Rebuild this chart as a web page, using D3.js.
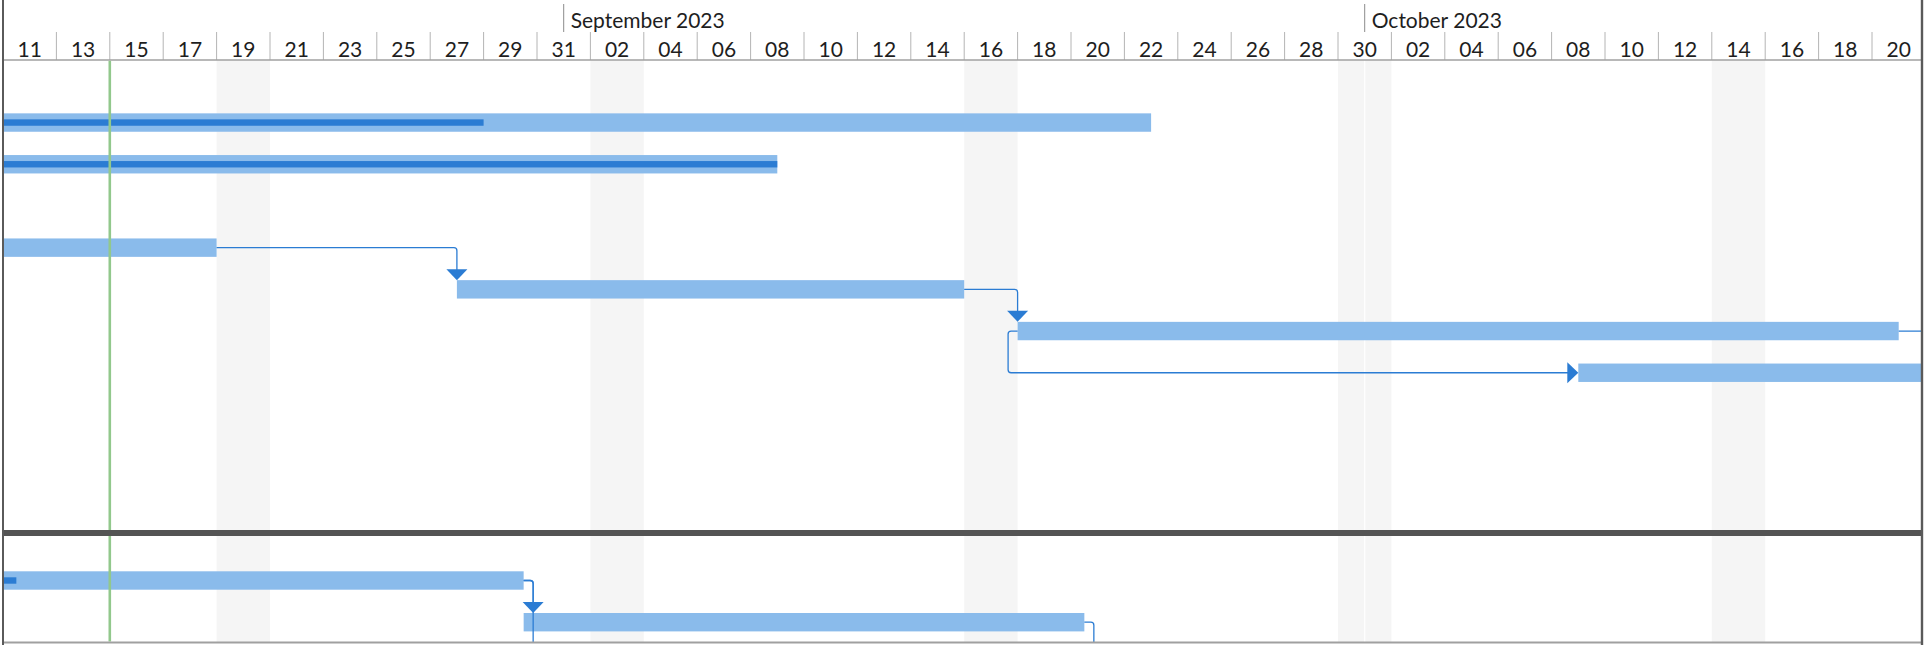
<!DOCTYPE html>
<html>
<head>
<meta charset="utf-8">
<script src="https://cdn.jsdelivr.net/npm/d3@7"></script>
<style>
  html, body { margin: 0; padding: 0; background: #fff; overflow: hidden; }
  svg { display: block; }
  text { font-family: "Segoe UI", Lato, "Noto Sans", sans-serif; fill: #1e1e1e; }
</style>
</head>
<body>
<svg id="chart" width="1930" height="645"></svg>
<script>
// ---- Timeline window ----
const viewStart = "2023-08-11";
const viewEnd = "2023-10-22";
const statusDate = "2023-08-15";
// Non-working periods shaded on the timescale (Saturday + Sunday)
const shadedStarts = ["2023-08-19", "2023-09-02", "2023-09-16", "2023-09-30", "2023-10-14"];
const shadedEnds   = ["2023-08-21", "2023-09-04", "2023-09-18", "2023-10-02", "2023-10-16"];

// ---- Upper pane tasks ----
const upperIds    = ["A", "B", "C", "D", "E", "F"];
const upperRows   = [1, 2, 4, 5, 6, 7];
const upperStarts = ["2023-08-07", "2023-08-07", "2023-08-07", "2023-08-28", "2023-09-18", "2023-10-09"];
const upperEnds   = ["2023-09-23", "2023-09-09", "2023-08-19", "2023-09-16", "2023-10-21", "2023-10-27"];
const upperDone   = ["2023-08-29", "2023-09-09", null, null, null, null];

// ---- Lower pane tasks ----
const lowerIds    = ["G", "H"];
const lowerRows   = [0, 1];
const lowerStarts = ["2023-08-07", "2023-08-30 12:00"];
const lowerEnds   = ["2023-08-30 12:00", "2023-09-20 12:00"];
const lowerDone   = ["2023-08-11 12:00", null];

// ---- Dependencies ----
const linkSources = ["C", "D", "E", "G"];
const linkTargets = ["D", "E", "F", "H"];
const linkTypes   = ["FS", "FS", "SS", "FS"];
// links whose successor lies outside the visible window
const outSources  = ["E", "G", "H"];
const outDirs     = ["right", "down", "down"];

// ---- Layout ----
const W = 1930, H = 645;
const paneLeft = 3, paneRight = 1922;
const pxPerDay = 26.7;
const headerBottom = 60;
const monthRowTop = 4, dayRowTop = 32;
const splitTop = 530, splitBottom = 536;
const bodyBottom = 642.5;
const rowH = 41.7;
const upperTop = headerBottom;
const lowerTop = 559.65;
const barH = 18.4, doneH = 6.4;
const arrowLen = 11, arrowHalf = 10.5, linkStub = 9.5, corner = 3;

const COLORS = {
  bar: "#8abbeb", done: "#2b7cd3", link: "#2b7cd3",
  shade: "#f5f5f5", today: "#92c88c", grid: "#b4b4b4",
  header: "#a0a0a0", frame: "#5a5a5a", split: "#545454"
};

const parse = s => {
  const [d, t] = s.split(" ");
  return new Date(d + "T" + (t || "00:00") + ":00Z");
};

const t0 = parse(viewStart), t1 = parse(viewEnd);
const nDays = d3.utcDay.count(t0, t1);
const x = d3.scaleUtc().domain([t0, t1]).range([paneLeft, paneLeft + nDays * pxPerDay]);

const svg = d3.select("#chart");

// Build task objects
function makeTasks(ids, rows, starts, ends, done, top) {
  return ids.map((id, i) => ({
    id, row: rows[i],
    start: parse(starts[i]), end: parse(ends[i]),
    done: done[i] ? parse(done[i]) : null,
    cy: top + rowH * (rows[i] + 0.5)
  }));
}
const upperTasks = makeTasks(upperIds, upperRows, upperStarts, upperEnds, upperDone, upperTop);
const lowerTasks = makeTasks(lowerIds, lowerRows, lowerStarts, lowerEnds, lowerDone, lowerTop);
const byId = new Map([...upperTasks, ...lowerTasks].map(t => [t.id, t]));

// Clip paths for the two panes
const defs = svg.append("defs");
defs.append("clipPath").attr("id", "clip-upper").append("rect")
  .attr("x", paneLeft).attr("y", headerBottom).attr("width", paneRight - paneLeft).attr("height", splitTop - headerBottom);
defs.append("clipPath").attr("id", "clip-lower").append("rect")
  .attr("x", paneLeft).attr("y", splitBottom).attr("width", paneRight - paneLeft).attr("height", bodyBottom - splitBottom);
defs.append("clipPath").attr("id", "clip-body").append("rect")
  .attr("x", paneLeft).attr("y", headerBottom).attr("width", paneRight - paneLeft).attr("height", bodyBottom - headerBottom);

// ---- Shaded non-working days ----
const shadeG = svg.append("g").attr("clip-path", "url(#clip-body)");
shadeG.selectAll("rect").data(shadedStarts.map((s, i) => [parse(s), parse(shadedEnds[i])]))
  .join("rect")
  .attr("x", d => x(d[0])).attr("width", d => x(d[1]) - x(d[0]))
  .attr("y", headerBottom).attr("height", bodyBottom - headerBottom)
  .attr("fill", COLORS.shade);

// month boundaries inside the body
const months = d3.utcMonth.range(d3.utcMonth.ceil(t0), t1);
shadeG.selectAll("line").data(months).join("line")
  .attr("x1", d => x(d)).attr("x2", d => x(d))
  .attr("y1", headerBottom).attr("y2", bodyBottom)
  .attr("stroke", "#fff").attr("stroke-width", 1.2);

// ---- Timescale header ----
const header = svg.append("g");
const dayTicks = d3.utcDay.range(t0, t1, 2);
const fmtDay = d3.utcFormat("%d");
const fmtMonth = d3.utcFormat("%B %Y");

header.selectAll("line.daysep").data(dayTicks.slice(1)).join("line")
  .attr("class", "daysep")
  .attr("x1", d => x(d)).attr("x2", d => x(d))
  .attr("y1", dayRowTop).attr("y2", headerBottom)
  .attr("stroke", COLORS.grid).attr("stroke-width", 1);

header.selectAll("text.day").data(dayTicks).join("text")
  .attr("class", "day")
  .attr("x", d => x(d) + pxPerDay)
  .attr("y", headerBottom - 3)
  .attr("text-anchor", "middle")
  .attr("font-size", 21)
  .text(d => fmtDay(d));

header.selectAll("line.monthsep").data(months).join("line")
  .attr("class", "monthsep")
  .attr("x1", d => x(d)).attr("x2", d => x(d))
  .attr("y1", monthRowTop).attr("y2", dayRowTop)
  .attr("stroke", "#8c8c8c").attr("stroke-width", 1);

header.selectAll("text.month").data(months).join("text")
  .attr("class", "month")
  .attr("x", d => x(d) + 7)
  .attr("y", dayRowTop - 4)
  .attr("font-size", 21)
  .text(d => fmtMonth(d));

header.append("line")
  .attr("x1", paneLeft).attr("x2", paneRight)
  .attr("y1", headerBottom).attr("y2", headerBottom)
  .attr("stroke", COLORS.header).attr("stroke-width", 1.5);

// ---- Task bars ----
function drawBars(tasks, clipId) {
  const g = svg.append("g").attr("clip-path", `url(#${clipId})`);
  g.selectAll("rect.bar").data(tasks).join("rect")
    .attr("class", "bar")
    .attr("x", d => x(d.start)).attr("width", d => x(d.end) - x(d.start))
    .attr("y", d => d.cy - barH / 2).attr("height", barH)
    .attr("fill", COLORS.bar);
  g.selectAll("rect.done").data(tasks.filter(d => d.done)).join("rect")
    .attr("class", "done")
    .attr("x", d => x(d.start)).attr("width", d => x(d.done) - x(d.start))
    .attr("y", d => d.cy - doneH / 2).attr("height", doneH)
    .attr("fill", COLORS.done);
  return g;
}
drawBars(upperTasks, "clip-upper");
drawBars(lowerTasks, "clip-lower");

// ---- Dependency links ----
function fsPath(p, s) {
  const x1 = x(p.end), y1 = p.cy;
  const vx = Math.max(x(s.start), x1 + linkStub);
  const yTop = s.cy - barH / 2 - arrowLen;
  return {
    path: `M${x1},${y1}H${vx - corner}Q${vx},${y1} ${vx},${y1 + corner}V${yTop + 1}`,
    arrow: [[vx - arrowHalf, yTop], [vx + arrowHalf, yTop], [vx, yTop + arrowLen]]
  };
}
function ssPath(p, s) {
  const xp = x(p.start), yp = p.cy;
  const lx = xp - linkStub;
  const xs = x(s.start), ys = s.cy;
  return {
    path: `M${xp},${yp}H${lx + corner}Q${lx},${yp} ${lx},${yp + corner}V${ys - corner}Q${lx},${ys} ${lx + corner},${ys}H${xs - arrowLen + 1}`,
    arrow: [[xs - arrowLen, ys - arrowHalf], [xs - arrowLen, ys + arrowHalf], [xs, ys]]
  };
}
function outPath(p, dir) {
  const x1 = x(p.end), y1 = p.cy;
  if (dir === "right") return `M${x1},${y1}H${paneRight + 10}`;
  const vx = x1 + linkStub;
  return `M${x1},${y1}H${vx - corner}Q${vx},${y1} ${vx},${y1 + corner}V${H + 20}`;
}

const upperSet = new Set(upperIds);
const linkData = linkSources.map((src, i) => {
  const p = byId.get(src), s = byId.get(linkTargets[i]);
  const geom = linkTypes[i] === "SS" ? ssPath(p, s) : fsPath(p, s);
  return { ...geom, clip: upperSet.has(src) ? "clip-upper" : "clip-lower" };
});
const outData = outSources.map((src, i) => ({
  path: outPath(byId.get(src), outDirs[i]),
  clip: upperSet.has(src) ? "clip-upper" : "clip-lower"
}));

["clip-upper", "clip-lower"].forEach(clip => {
  const g = svg.append("g").attr("clip-path", `url(#${clip})`);
  g.selectAll("path.out").data(outData.filter(d => d.clip === clip)).join("path")
    .attr("class", "out").attr("d", d => d.path)
    .attr("fill", "none").attr("stroke", COLORS.link).attr("stroke-width", 1.3);
  const ls = linkData.filter(d => d.clip === clip);
  g.selectAll("path.link").data(ls).join("path")
    .attr("class", "link").attr("d", d => d.path)
    .attr("fill", "none").attr("stroke", COLORS.link).attr("stroke-width", 1.3);
  g.selectAll("path.arrow").data(ls).join("path")
    .attr("class", "arrow")
    .attr("d", d => "M" + d.arrow.map(p => p.join(",")).join("L") + "Z")
    .attr("fill", COLORS.link);
});

// ---- Status date line ----
svg.append("line")
  .attr("x1", x(parse(statusDate))).attr("x2", x(parse(statusDate)))
  .attr("y1", headerBottom + 0.75).attr("y2", bodyBottom - 1)
  .attr("stroke", COLORS.today).attr("stroke-width", 2.6);

// ---- Frame and splitter ----
svg.append("rect")
  .attr("x", paneLeft).attr("y", splitTop)
  .attr("width", paneRight - paneLeft).attr("height", splitBottom - splitTop)
  .attr("fill", COLORS.split);
svg.append("line")
  .attr("x1", paneLeft).attr("x2", paneRight)
  .attr("y1", bodyBottom).attr("y2", bodyBottom)
  .attr("stroke", COLORS.header).attr("stroke-width", 2);
svg.append("line")
  .attr("x1", paneLeft).attr("x2", paneLeft)
  .attr("y1", 0).attr("y2", H)
  .attr("stroke", COLORS.frame).attr("stroke-width", 2);
svg.append("line")
  .attr("x1", paneRight).attr("x2", paneRight)
  .attr("y1", 0).attr("y2", H)
  .attr("stroke", COLORS.frame).attr("stroke-width", 2.4);
</script>
</body>
</html>
